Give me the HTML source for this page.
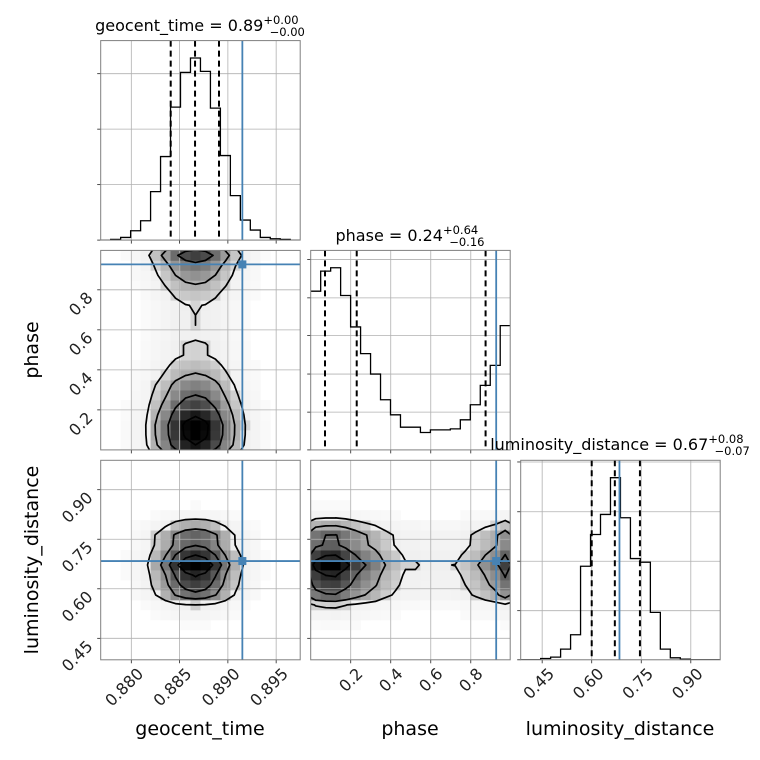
<!DOCTYPE html>
<html><head><meta charset="utf-8"><style>
html,body{margin:0;padding:0;background:#fff;}
svg{display:block;font-family:"DejaVu Sans","Liberation Sans",sans-serif;}
</style></head><body>
<svg id="fig" width="760" height="760" viewBox="0 0 760 760"></svg>
<script>
// ---- data ----
const geoHist = [0,2,8,28,58,145,250,398,502,545,505,395,253,133,60,30,8,4,2,0];
const phaseHist = [475,535,545,462,368,288,227,150,105,68,68,52,60,60,63,90,135,193,253,372];
const lumHist = [0,0,4,8,32,75,280,375,435,545,425,303,292,142,32,6,2,0,0,0];
const geoRange = [0.87683, 0.89749];
const phaseRange = [0.0, 0.997];
const lumRange = [0.385, 0.989];
const geoTicks = [0.880, 0.885, 0.890, 0.895];
const geoTickLabels = ["0.880","0.885","0.890","0.895"];
const phaseTicks = [0.2, 0.4, 0.6, 0.8];
const phaseTickLabels = ["0.2","0.4","0.6","0.8"];
const lumTicks = [0.45, 0.60, 0.75, 0.90];
const lumTickLabels = ["0.45","0.60","0.75","0.90"];
const geoCountTicks = [0,166,332,498];
const phaseCountTicks = [0,113,227,342,455,570];
const lumCountTicks = [0,147,295,443,592];
const histMax = 597;
const geoQuantiles = [0.88408, 0.88660, 0.88908];
const phaseQuantiles = [0.0715, 0.23, 0.874];
const lumQuantiles = [0.600, 0.670, 0.746];
const truthGeo = 0.8915, truthPhase = 0.927, truthLum = 0.684;
const sigmaLevels = [0.118, 0.393, 0.675, 0.865];

// ---- layout ----
const NS = "http://www.w3.org/2000/svg";
const svg = document.getElementById('fig');
const colX = [100.7, 310.7, 520.7];
const rowY = [40.6, 250.4, 460.3];
const S = 199.5;
const BLUE = "#4682b4";
function mk(tag, attrs, parent){
  const e = document.createElementNS(NS, tag);
  for (const k in attrs) e.setAttribute(k, attrs[k]);
  (parent||svg).appendChild(e); return e;
}
function scale(r, p0, p1){ return v => p0 + (v - r[0])/(r[1]-r[0])*(p1-p0); }

function panel(c, r, name){
  const g = mk('g', {});
  
  
  const x0 = colX[c], y0 = rowY[r];
  const clipId = 'clip'+c+r;
  const cp = mk('clipPath', {id: clipId}, g);
  mk('rect', {x:x0, y:y0, width:S, height:S}, cp);
  const inner = mk('g', {'clip-path':'url(#'+clipId+')'}, g);
  return {g, inner, x0, y0};
}
function frame(p){
  const f = mk('rect', {x:p.x0, y:p.y0, width:S, height:S, fill:'none', stroke:'#808080', 'stroke-width':1}, p.g);
  
  
}
function xTicks(p, sx, ticks, labels){
  ticks.forEach((t,i)=>{
    const x = sx(t);
    mk('line', {x1:x, y1:p.y0, x2:x, y2:p.y0+S, stroke:'#b0b0b0', 'stroke-width':0.8}, p.inner);
    mk('line', {x1:x, y1:p.y0+S, x2:x, y2:p.y0+S+3.5, stroke:'#222', 'stroke-width':0.8}, p.g);
    if (labels){
      const tx = mk('text', {transform:`translate(${x+9},${p.y0+S+11}) rotate(-45)`, 'text-anchor':'end', dy:'0.35em', 'font-size':16, fill:'#222'}, p.g);
      tx.textContent = labels[i];
      
      
    }
  });
}
function yTicks(p, sy, ticks, labels){
  ticks.forEach((t,i)=>{
    const y = sy(t);
    mk('line', {x1:p.x0, y1:y, x2:p.x0+S, y2:y, stroke:'#b0b0b0', 'stroke-width':0.8}, p.inner);
    mk('line', {x1:p.x0-3.5, y1:y, x2:p.x0, y2:y, stroke:'#222', 'stroke-width':0.8}, p.g);
    if (labels){
      const tx = mk('text', {transform:`translate(${p.x0-11},${y+5}) rotate(-45)`, 'text-anchor':'end', dy:'0.35em', 'font-size':16, fill:'#222'}, p.g);
      tx.textContent = labels[i];
      
      
    }
  });
}
function hist1d(p, hist, range, qs, truth, countTicks, xt, xl, name){
  const sx = scale(range, p.x0, p.x0+S);
  const sy = scale([0, histMax], p.y0+S, p.y0);
  xTicks(p, sx, xt, xl);
  yTicks(p, sy, countTicks, null);
  const n = hist.length, bw = (range[1]-range[0])/n;
  let d = '';
  hist.forEach((v,i)=>{
    const xa = sx(range[0]+i*bw), xb = sx(range[0]+(i+1)*bw), y = sy(v);
    d += (i===0 ? `M${xa},${y}` : `L${xa},${y}`) + `L${xb},${y}`;
  });
  const path = mk('path', {d, fill:'none', stroke:'#000', 'stroke-width':1.3}, p.inner);
  
  
  qs.forEach(q=>{
    const l = mk('line', {x1:sx(q), y1:p.y0, x2:sx(q), y2:p.y0+S, stroke:'#000', 'stroke-width':2, 'stroke-dasharray':'6,4'}, p.inner);
    
    
  });
  const tl = mk('line', {x1:sx(truth), y1:p.y0, x2:sx(truth), y2:p.y0+S, stroke:BLUE, 'stroke-width':1.8}, p.inner);
  
  
  frame(p);
}

function grayFor(v){ const g = Math.round(255*(1-Math.pow(Math.min(v,1),0.85))); return `rgb(${g},${g},${g})`; }

function hist2d(p, hx, hy, rx, ry, tx, ty, xt, xl, yt, yl, name){
  const sx = scale(rx, p.x0, p.x0+S);
  const sy = scale(ry, p.y0+S, p.y0);
  const nx = hx.length, ny = hy.length;
  const bwx = (rx[1]-rx[0])/nx, bwy = (ry[1]-ry[0])/ny;
  const Z = []; let vmax = 0, tot = 0; const all = [];
  for (let j=0;j<ny;j++){ Z.push([]); for (let i=0;i<nx;i++){ const v = hx[i]*hy[j]; Z[j].push(v); vmax=Math.max(vmax,v); tot+=v; all.push(v);} }
  all.sort((a,b)=>b-a);
  const thr = sigmaLevels.map(L=>{ let c=0; for (const v of all){ c+=v; if (c/tot>=L) return v; } return all[all.length-1]; });
  const outer = thr[thr.length-1];
  for (let j=0;j<ny;j++) for (let i=0;i<nx;i++){
    const v = Z[j][i];
    let fill;
    if (v >= outer) fill = grayFor(v/vmax*1.05);
    else { const h = Math.min(1, v/outer); if (h < 0.08) continue; const g = Math.round(255 - 16*Math.sqrt(h)); fill = `rgb(${g},${g},${g})`; }
    const xa = sx(rx[0]+i*bwx), xb = sx(rx[0]+(i+1)*bwx), ya = sy(ry[0]+(j+1)*bwy), yb = sy(ry[0]+j*bwy);
    const cell = mk('rect', {x:xa, y:ya, width:xb-xa+0.4, height:yb-ya+0.4, fill}, p.inner);
    
    
  }
  xTicks(p, sx, xt, xl);
  yTicks(p, sy, yt, yl);
  const cx = i => sx(rx[0]+(i+0.5)*bwx), cy = j => sy(ry[0]+(j+0.5)*bwy);
  const G = (i,j) => Z[Math.max(0,Math.min(ny-1,j))][Math.max(0,Math.min(nx-1,i))]*((i<0||i>=nx||j<0||j>=ny)?0.6:1);
  thr.forEach(t=>{
    let d = '';
    for (let j=-1;j<ny;j++) for (let i=-1;i<nx;i++){
      const a=G(i,j), b=G(i+1,j), c=G(i+1,j+1), e=G(i,j+1);
      const X0=cx(i), X1=cx(i+1), Y0=cy(j), Y1=cy(j+1);
      const pts = [];
      const lerp=(p0,p1,v0,v1)=>p0+(t-v0)/(v1-v0)*(p1-p0);
      if ((a>=t)!==(b>=t)) pts.push([lerp(X0,X1,a,b), Y0]);
      if ((b>=t)!==(c>=t)) pts.push([X1, lerp(Y0,Y1,b,c)]);
      if ((c>=t)!==(e>=t)) pts.push([lerp(X1,X0,c,e), Y1]);
      if ((e>=t)!==(a>=t)) pts.push([X0, lerp(Y1,Y0,e,a)]);
      for (let k=0;k+1<pts.length;k+=2) d += `M${pts[k][0].toFixed(1)},${pts[k][1].toFixed(1)}L${pts[k+1][0].toFixed(1)},${pts[k+1][1].toFixed(1)}`;
    }
    const path = mk('path', {d, fill:'none', stroke:'#000', 'stroke-width':1.7, 'stroke-linecap':'round'}, p.inner);
    
    
  });
  const vl = mk('line', {x1:sx(tx), y1:p.y0, x2:sx(tx), y2:p.y0+S, stroke:BLUE, 'stroke-width':1.8}, p.inner);
  
  
  const hl = mk('line', {x1:p.x0, y1:sy(ty), x2:p.x0+S, y2:sy(ty), stroke:BLUE, 'stroke-width':1.8}, p.inner);
  
  
  const m = mk('rect', {x:sx(tx)-4, y:sy(ty)-4, width:8, height:8, fill:BLUE}, p.inner);
  
  
  frame(p);
}

hist1d(panel(0,0,'geocent-time-hist-panel'), geoHist, geoRange, geoQuantiles, truthGeo, geoCountTicks, geoTicks, null, 'geocent-time');
hist1d(panel(1,1,'phase-hist-panel'), phaseHist, phaseRange, phaseQuantiles, truthPhase, phaseCountTicks, phaseTicks, null, 'phase');
hist1d(panel(2,2,'luminosity-distance-hist-panel'), lumHist, lumRange, lumQuantiles, truthLum, lumCountTicks, lumTicks, lumTickLabels, 'luminosity-distance');
hist2d(panel(0,1,'geocent-phase-panel'), geoHist, phaseHist, geoRange, phaseRange, truthGeo, truthPhase, geoTicks, null, phaseTicks, phaseTickLabels, 'geocent-phase');
hist2d(panel(0,2,'geocent-lum-panel'), geoHist, lumHist, geoRange, lumRange, truthGeo, truthLum, geoTicks, geoTickLabels, lumTicks, lumTickLabels, 'geocent-lum');
hist2d(panel(1,2,'phase-lum-panel'), phaseHist, lumHist, phaseRange, lumRange, truthPhase, truthLum, phaseTicks, phaseTickLabels, lumTicks, null, 'phase-lum');

function title(cx, y, main, up, lo, name){
  const t = mk('text', {x:cx, y, 'text-anchor':'middle', 'font-size':16, fill:'#000'});
  
  
  const s1 = mk('tspan', {}, t); s1.textContent = main;
  const s2 = mk('tspan', {'font-size':11.5, dy:-7}, t); s2.textContent = up;
  const s3 = mk('tspan', {'font-size':11.5, dy:12, dx:-29}, t); s3.textContent = lo;
}
title(200, 31, 'geocent_time = 0.89', '+0.00', '\u22120.00', 'geocent-time-title');
title(410, 241, 'phase = 0.24', '+0.64', '\u22120.16', 'phase-title');
title(620, 450, 'luminosity_distance = 0.67', '+0.08', '\u22120.07', 'luminosity-distance-title');

function label(x, y, txt, rot, name){
  const t = mk('text', {x, y, 'text-anchor':'middle', 'font-size':19, fill:'#000', transform: rot ? `rotate(-90 ${x} ${y})` : ''});
  t.textContent = txt;
  
  
}
label(200, 735, 'geocent_time', false, 'x-axis-title-geocent-time');
label(410, 735, 'phase', false, 'x-axis-title-phase');
label(620, 735, 'luminosity_distance', false, 'x-axis-title-luminosity-distance');
label(38, 350, 'phase', true, 'y-axis-title-phase');
label(38, 560, 'luminosity_distance', true, 'y-axis-title-luminosity-distance');
</script>
</body></html>
